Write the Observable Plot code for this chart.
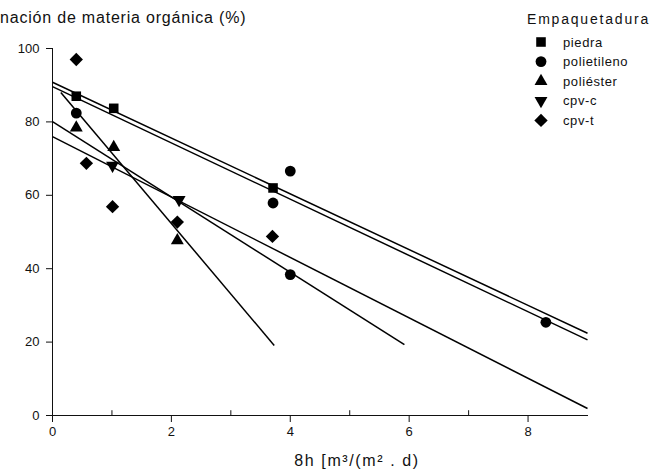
<!DOCTYPE html>
<html>
<head>
<meta charset="utf-8">
<script src="https://cdn.jsdelivr.net/npm/d3@7"></script>
<script src="https://cdn.jsdelivr.net/npm/@observablehq/plot@0.6"></script>
<style>
  html, body { margin: 0; padding: 0; background: #fff; }
  #chart { width: 656px; height: 475px; overflow: hidden; }
</style>
</head>
<body>
<div id="chart"></div>
<script>
// ---- Data ----
const seriesNames = ["piedra", "polietileno", "poliéster", "cpv-c", "cpv-t"];

const piedraX = [0.40, 1.03, 3.71];
const piedraY = [87.0, 83.7, 62.0];

const polietilenoX = [0.40, 3.71, 4.00, 4.00, 8.30];
const polietilenoY = [82.4, 57.9, 66.6, 38.4, 25.4];

const poliesterX = [0.40, 1.03, 2.10];
const poliesterY = [78.4, 73.1, 47.7];

const cpvcX = [1.01, 2.13];
const cpvcY = [68.1, 58.8];

const cpvtX = [0.40, 0.57, 1.01, 2.10, 3.70];
const cpvtY = [97.0, 68.7, 56.9, 52.7, 48.8];

// fitted straight lines (start / end), one per series
const fitX1 = [0, 0, 0.14, 0, 0];
const fitY1 = [90.8, 89.6, 88.0, 80.1, 76.0];
const fitX2 = [9, 9, 3.73, 5.92, 9];
const fitY2 = [22.4, 20.6, 19.1, 19.3, 1.9];

const xTicks = [0, 2, 4, 6, 8];
const xMinorTicks = [1, 3, 5, 7];
const yTicks = [0, 20, 40, 60, 80, 100];

const yLabel = "nación de materia orgánica (%)";
const xLabel = "8h [m³/(m² . d)";
const legendTitle = "Empaquetadura";

// ---- Build tables ----
const seriesX = [piedraX, polietilenoX, poliesterX, cpvcX, cpvtX];
const seriesY = [piedraY, polietilenoY, poliesterY, cpvcY, cpvtY];

const downTriangle = {
  draw(context, size) {
    const y = -Math.sqrt(size / (Math.sqrt(3) * 3));
    context.moveTo(0, -y * 2);
    context.lineTo(-Math.sqrt(3) * y, y);
    context.lineTo(Math.sqrt(3) * y, y);
    context.closePath();
  }
};
const symbols = [d3.symbolSquare, d3.symbolCircle, d3.symbolTriangle, downTriangle, d3.symbolDiamond2];
const radii = [5.4, 5.4, 4.8, 4.8, 6.0];

const points = [];
seriesNames.forEach((s, i) => {
  seriesX[i].forEach((x, j) => points.push({serie: s, i, x, y: seriesY[i][j]}));
});
const fits = seriesNames.map((s, i) => ({serie: s, x1: fitX1[i], y1: fitY1[i], x2: fitX2[i], y2: fitY2[i]}));

const font = "Liberation Sans, Arial, sans-serif";

const plot = Plot.plot({
  width: 656,
  height: 475,
  marginLeft: 52,
  marginRight: 69,
  marginTop: 48,
  marginBottom: 60,
  style: {fontFamily: font, fontSize: "13px", color: "#111", background: "#fff"},
  x: {domain: [0, 9], ticks: xTicks, tickSize: 7, tickPadding: 4, label: null, line: true, tickFormat: d3.format("d")},
  y: {domain: [0, 100], ticks: yTicks, tickSize: 6, tickPadding: 7, label: null, line: true, tickFormat: d3.format("d")},
  marks: [
    Plot.ruleX(xMinorTicks, {x: d => d, y1: 0, y2: 1.3, stroke: "#111", strokeWidth: 1}),
    Plot.link(fits, {x1: "x1", y1: "y1", x2: "x2", y2: "y2", stroke: "#000", strokeWidth: 1.5}),
    ...seriesNames.map((s, i) =>
      Plot.dot(points.filter(p => p.i === i), {x: "x", y: "y", symbol: symbols[i], r: radii[i], fill: "#000", stroke: "none"})
    )
  ]
});

const svg = d3.select(plot);

// y-axis title (clipped at the top-left as in the reference)
svg.append("text")
  .attr("x", 0).attr("y", 23)
  .attr("text-anchor", "start")
  .attr("font-family", font).attr("font-size", 16).attr("letter-spacing", 0.8)
  .attr("fill", "#111")
  .text(yLabel);

// x-axis title
svg.append("text")
  .attr("x", 357).attr("y", 466)
  .attr("text-anchor", "middle")
  .attr("font-family", font).attr("font-size", 16).attr("letter-spacing", 1.6)
  .attr("fill", "#111")
  .text(xLabel);

// legend
const lg = svg.append("g").attr("text-anchor", "start");
lg.append("text")
  .attr("x", 527).attr("y", 24)
  .attr("font-family", font).attr("font-size", 14).attr("letter-spacing", 1.8)
  .attr("fill", "#111")
  .text(legendTitle);
seriesNames.forEach((s, i) => {
  const cy = 42 + i * 19.6;
  lg.append("path")
    .attr("transform", `translate(541,${cy})`)
    .attr("d", d3.symbol(symbols[i], Math.PI * radii[i] * radii[i])())
    .attr("fill", "#000");
  lg.append("text")
    .attr("x", 563).attr("y", cy + 4.5)
    .attr("font-family", font).attr("font-size", 13).attr("letter-spacing", 0.6)
    .attr("fill", "#111")
    .text(s);
});

document.getElementById("chart").appendChild(plot);
</script>
</body>
</html>
